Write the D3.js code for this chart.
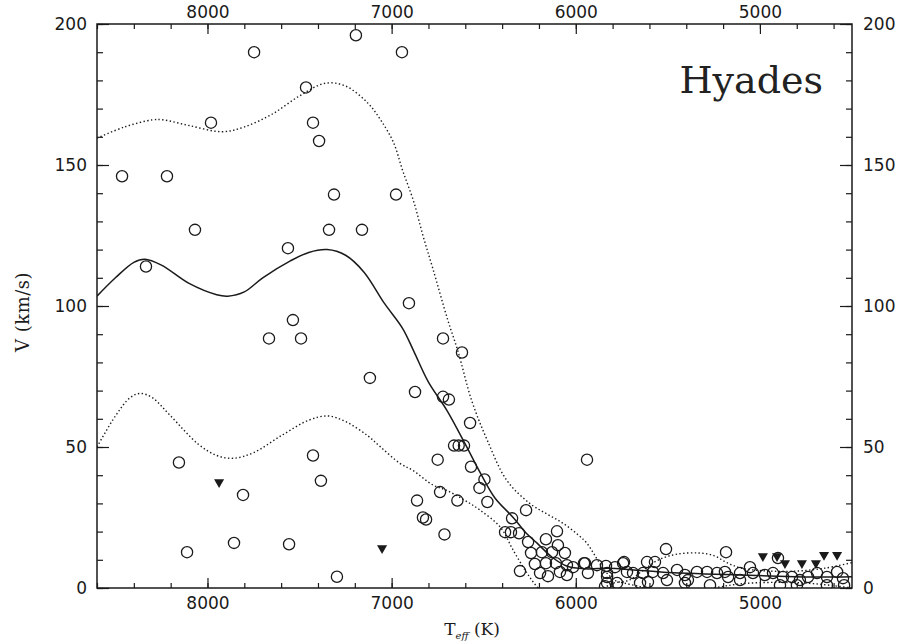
<!DOCTYPE html>
<html>
<head>
<meta charset="utf-8">
<script src="https://cdn.jsdelivr.net/npm/d3@7"></script>
<style>
  html, body { margin: 0; padding: 0; background: #fff; }
  svg { display: block; }
</style>
</head>
<body>
<svg id="chart" width="901" height="644"></svg>
<script>
// ---------------- DATA ----------------
const title = "Hyades";
const xLabel = "T";
const xLabelSub = "eff";
const xLabelUnit = " (K)";
const yLabel = "V (km/s)";
const xMajorTicks = [8000, 7000, 6000, 5000];
const yMajorTicks = [0, 50, 100, 150, 200];

// measured stars: [Teff, V]
const starsTeff = [
  7194, 7747, 6944, 7465, 7981, 7427, 7394, 8464, 8220, 7313, 6976, 8068, 7340, 7161, 7563, 8334,
  6906, 7536, 7666, 7492, 6721, 6618, 7118, 6873, 6721, 6689, 6574, 6661, 6636, 6607, 6569, 6496,
  6523, 6480, 6643, 6737, 6750, 8155, 7427, 7384, 7807, 6862, 6830, 6813, 6713, 7856, 7557, 8111,
  7297, 5939,
  6270, 6346, 6384, 6352, 6308, 6102, 6162, 6259, 6097, 6243, 6184, 6129, 6059, 6222, 6162, 6108,
  6048, 6015, 5955, 5885, 5836, 6303, 6194, 6151, 6086, 6048, 5934, 5830, 5841,
  5510, 5738, 5613, 5570, 5830, 5787, 5722, 5689, 5635, 5581, 5526, 5450, 5407, 5342, 5287, 5233,
  5190, 5830, 5776, 5651, 5608, 5505, 5407, 5271, 5391, 5184, 5173, 5108, 5054, 5038, 4973, 4929,
  4875, 4826, 4783, 4739, 4690, 4636, 4581, 4549, 4891, 4799, 4636, 4543, 5108, 4902, 5950, 5743
];
const starsV = [
  196, 190, 190, 177.5, 165, 165, 158.5, 146, 146, 139.5, 139.5, 127, 127, 127, 120.5, 114,
  101, 95, 88.5, 88.5, 88.5, 83.5, 74.5, 69.5, 67.8, 66.8, 58.5, 50.5, 50.5, 50.5, 43, 38.5,
  35.5, 30.5, 31, 34, 45.5, 44.5, 47, 38, 33, 31, 25, 24.3, 19, 16, 15.5, 12.7,
  4, 45.5,
  27.6, 24.7, 19.8, 19.8, 19.4, 20.1, 17.3, 16.3, 15.2, 12.4, 12.7, 12.7, 12.4, 8.5, 8.8, 8.8,
  8.1, 7.4, 8.8, 8.1, 7.8, 6, 5.3, 4.2, 5.7, 4.6, 5.3, 3.9, 0.6,
  13.8, 9.2, 9.2, 9.2, 5.3, 7.4, 5.7, 5.3, 5.3, 5.7, 5.3, 6.4, 4.6, 5.7, 5.7, 5.3,
  5.7, 1.8, 1.8, 1.8, 2.1, 2.8, 1.8, 1.0, 2.8, 12.7, 3.9, 5.3, 7.4, 5.3, 4.6, 5.3,
  3.9, 3.9, 2.8, 3.9, 5.3, 3.9, 5.7, 3.5, 1.0, 1.0, 1.0, 1.0, 2.8, 10.6, 8.8, 8.8
];

// upper limits (filled triangles)
const limitsTeff = [7937, 7052, 4984, 4907, 4864, 4772, 4696, 4652, 4581];
const limitsV    = [37.5, 14.1, 11.3, 11.3, 8.8, 8.8, 8.8, 11.7, 11.7];

// mean curve (solid)
const meanTeff = [8600, 8500, 8400, 8340, 8250, 8100, 7950, 7890, 7800, 7700, 7550, 7450, 7350, 7250, 7150, 7040,
                  6940, 6880, 6800, 6700, 6600, 6520, 6440, 6340, 6270, 6210, 6130, 6050, 5950, 5820, 5700, 5500,
                  5300, 5100, 4900, 4700, 4500];
const meanV    = [103.5, 110, 115.5, 116.6, 114.5, 108, 104, 103.5, 105, 110, 116, 119, 120, 118, 112, 101,
                  92, 84, 73, 63, 51, 41, 32, 25, 19.5, 15.9, 11, 7.8, 6.8, 7.0, 6.5, 5.5,
                  5.0, 4.6, 4.2, 3.9, 4.0];

// upper envelope (dotted)
const upperTeff = [8600, 8450, 8300, 8240, 8100, 7920, 7800, 7650, 7500, 7360, 7250, 7130, 7060, 6990, 6940, 6880,
                   6830, 6775, 6695, 6640, 6565, 6480, 6375, 6250, 6150, 6070, 5990, 5940, 5870, 5820, 5770, 5710,
                   5640, 5550, 5450, 5330, 5250, 5180, 5100, 4950, 4800, 4650, 4500];
const upperV    = [159.5, 163.5, 166, 166, 164, 161.8, 163.5, 168, 174.5, 179, 178, 172, 166, 158, 148, 137,
                   125, 113, 95, 84, 66.4, 52.3, 38.2, 30, 26, 23, 19, 15.9, 8.8, 4.5, 2.2, 2.8,
                   6, 10, 12, 12.4, 11.5, 9, 7, 6, 6, 7, 9];

// lower envelope (dotted)
const lowerTeff = [8600, 8500, 8420, 8365, 8300, 8200, 8050, 7950, 7860, 7750, 7600, 7450, 7345, 7250, 7130, 7060,
                   6955, 6885, 6775, 6700, 6600, 6520, 6410, 6340, 6265, 6210, 6150, 6050, 5950, 5850, 5780, 5700,
                   5550, 5400, 5250, 5100, 4900, 4700, 4500];
const lowerV    = [50, 61, 67.5, 69, 67.5, 61, 51, 47, 46, 48, 54, 59.5, 61, 59, 54, 50,
                   44.2, 41.7, 36.5, 34.6, 31, 27.6, 21.6, 13.4, 5.3, 0.4, -3, -4, -3, 0, 2, 1.2,
                   -1, -2, 0, 1.5, 2, 1.5, 0];

// ---------------- CHART ----------------
const plotLeft = 97, plotRight = 852, plotTop = 24, plotBottom = 588;

const svg = d3.select("#chart");
const x = d3.scaleLinear().domain([8600, 4500]).range([plotLeft, plotRight]);
const y = d3.scaleLinear().domain([0, 200]).range([plotBottom, plotTop]);

const ink = "#1a1a1a";
const tickFont = "'DejaVu Sans', sans-serif";

svg.append("defs").append("clipPath").attr("id", "plotclip")
  .append("rect").attr("x", plotLeft).attr("y", plotTop)
  .attr("width", plotRight - plotLeft).attr("height", plotBottom - plotTop);

function styleAxis(g) {
  g.select(".domain").remove();
  g.selectAll(".tick line").attr("stroke", ink).attr("stroke-width", 1.2);
  g.selectAll("text").attr("fill", ink).style("font-family", tickFont).style("font-size", "17px");
}

const xMinor = d3.range(4600, 8601, 200);
const yMinor = d3.range(0, 201, 10);

// bottom
svg.append("g").attr("transform", `translate(0,${plotBottom})`)
  .call(d3.axisBottom(x).tickValues(xMinor).tickSizeInner(-5).tickSizeOuter(0).tickFormat(""))
  .call(styleAxis);
svg.append("g").attr("transform", `translate(0,${plotBottom})`)
  .call(d3.axisBottom(x).tickValues(xMajorTicks).tickSizeInner(-10).tickSizeOuter(0).tickPadding(9).tickFormat(d3.format("d")))
  .call(styleAxis);
// top
svg.append("g").attr("transform", `translate(0,${plotTop})`)
  .call(d3.axisTop(x).tickValues(xMinor).tickSizeInner(-5).tickSizeOuter(0).tickFormat(""))
  .call(styleAxis);
svg.append("g").attr("transform", `translate(0,${plotTop})`)
  .call(d3.axisTop(x).tickValues(xMajorTicks).tickSizeInner(-10).tickSizeOuter(0).tickPadding(6).tickFormat(d3.format("d")))
  .call(styleAxis);
// left
svg.append("g").attr("transform", `translate(${plotLeft},0)`)
  .call(d3.axisLeft(y).tickValues(yMinor).tickSizeInner(-6).tickSizeOuter(0).tickFormat(""))
  .call(styleAxis);
svg.append("g").attr("transform", `translate(${plotLeft},0)`)
  .call(d3.axisLeft(y).tickValues(yMajorTicks).tickSizeInner(-12).tickSizeOuter(0).tickPadding(10))
  .call(styleAxis);
// right
svg.append("g").attr("transform", `translate(${plotRight},0)`)
  .call(d3.axisRight(y).tickValues(yMinor).tickSizeInner(-6).tickSizeOuter(0).tickFormat(""))
  .call(styleAxis);
svg.append("g").attr("transform", `translate(${plotRight},0)`)
  .call(d3.axisRight(y).tickValues(yMajorTicks).tickSizeInner(-12).tickSizeOuter(0).tickPadding(11))
  .call(styleAxis);

// frame
svg.append("rect").attr("x", plotLeft).attr("y", plotTop)
  .attr("width", plotRight - plotLeft).attr("height", plotBottom - plotTop)
  .attr("fill", "none").attr("stroke", ink).attr("stroke-width", 1.5);

// curves
const plot = svg.append("g").attr("clip-path", "url(#plotclip)");
const line = d3.line().x(d => x(d[0])).y(d => y(d[1])).curve(d3.curveCatmullRom.alpha(0.5));

plot.append("path").datum(d3.zip(meanTeff, meanV))
  .attr("d", line).attr("fill", "none").attr("stroke", ink).attr("stroke-width", 1.5);
plot.append("path").datum(d3.zip(upperTeff, upperV))
  .attr("d", line).attr("fill", "none").attr("stroke", ink).attr("stroke-width", 1.4)
  .attr("stroke-dasharray", "1.4,2.4");
plot.append("path").datum(d3.zip(lowerTeff, lowerV))
  .attr("d", line).attr("fill", "none").attr("stroke", ink).attr("stroke-width", 1.4)
  .attr("stroke-dasharray", "1.4,2.4");

// stars
plot.append("g").selectAll("circle").data(d3.zip(starsTeff, starsV)).join("circle")
  .attr("cx", d => x(d[0])).attr("cy", d => y(d[1])).attr("r", 5.6)
  .attr("fill", "none").attr("stroke", ink).attr("stroke-width", 1.3);

// upper limits
const tri = d3.symbol().type(d3.symbolTriangle).size(44);
plot.append("g").selectAll("path").data(d3.zip(limitsTeff, limitsV)).join("path")
  .attr("d", tri)
  .attr("transform", d => `translate(${x(d[0])},${y(d[1])}) rotate(180)`)
  .attr("fill", ink);

// title
svg.append("text").attr("x", 823).attr("y", 93).attr("text-anchor", "end")
  .style("font-family", "'DejaVu Serif', serif").style("font-size", "38px").attr("fill", "#222")
  .text(title);

// axis titles
const xt = svg.append("text").attr("x", 472).attr("y", 635).attr("text-anchor", "middle")
  .style("font-family", "'DejaVu Serif', serif").style("font-size", "17px").attr("fill", ink);
xt.append("tspan").text(xLabel);
xt.append("tspan").attr("dy", 4).style("font-size", "10px").style("font-style", "italic").text(xLabelSub);
xt.append("tspan").attr("dy", -4).text(xLabelUnit);

svg.append("text").attr("transform", `translate(29,312) rotate(-90)`).attr("text-anchor", "middle")
  .style("font-family", "'DejaVu Serif', serif").style("font-size", "18px").attr("fill", ink)
  .style("letter-spacing", "0.5px")
  .text(yLabel);
</script>
</body>
</html>
